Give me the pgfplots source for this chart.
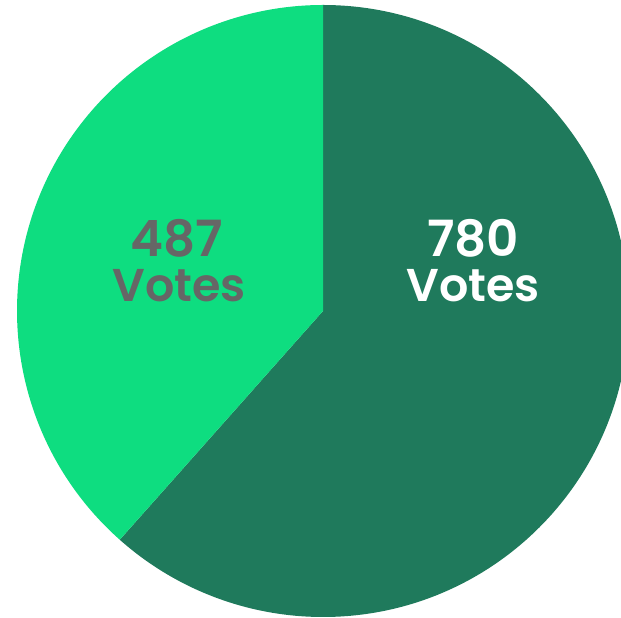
\documentclass[border=0pt]{standalone}
\usepackage{fontspec}
\setmainfont{Poppins}
\newfontfamily\pop{Poppins SemiBold}
\usepackage{pgfplots}
\pgfplotsset{compat=1.18}
\definecolor{darkgreen}{HTML}{1F7A5C}
\definecolor{lightgreen}{HTML}{0EDD80}
\definecolor{labelgrey}{HTML}{666666}

% vote counts
\def\va{780}
\def\vb{487}

\begin{document}
\begin{tikzpicture}
\pgfmathsetmacro{\frac}{\va/(\va+\vb)}
\pgfmathsetmacro{\cut}{90-360*\frac}
\begin{axis}[
  width=621pt, height=618pt, scale only axis,
  xmin=0, xmax=621, ymin=0, ymax=618,
  hide axis, clip=true,
]
  \fill[darkgreen] (axis cs:323,307) -- ++(90:306pt)
    arc[start angle=90, end angle=\cut, radius=306pt] -- cycle;
  \fill[lightgreen] (axis cs:323,307) -- ++(\cut:306pt)
    arc[start angle=\cut, end angle=-270, radius=306pt] -- cycle;
  \node[anchor=base, text=white, font=\pop\fontsize{50}{50}\selectfont] at (axis cs:473,361) {780};
  \node[anchor=base, text=white, font=\pop\fontsize{46}{46}\selectfont] at (axis cs:473,316) {Votes};
  \node[anchor=base, text=labelgrey, font=\pop\fontsize{50}{50}\selectfont] at (axis cs:177,361) {487};
  \node[anchor=base, text=labelgrey, font=\pop\fontsize{46}{46}\selectfont] at (axis cs:179,316) {Votes};
\end{axis}
\pgfresetboundingbox
\path[use as bounding box] (0,0) rectangle (621pt,618pt);
\end{tikzpicture}
\end{document}
